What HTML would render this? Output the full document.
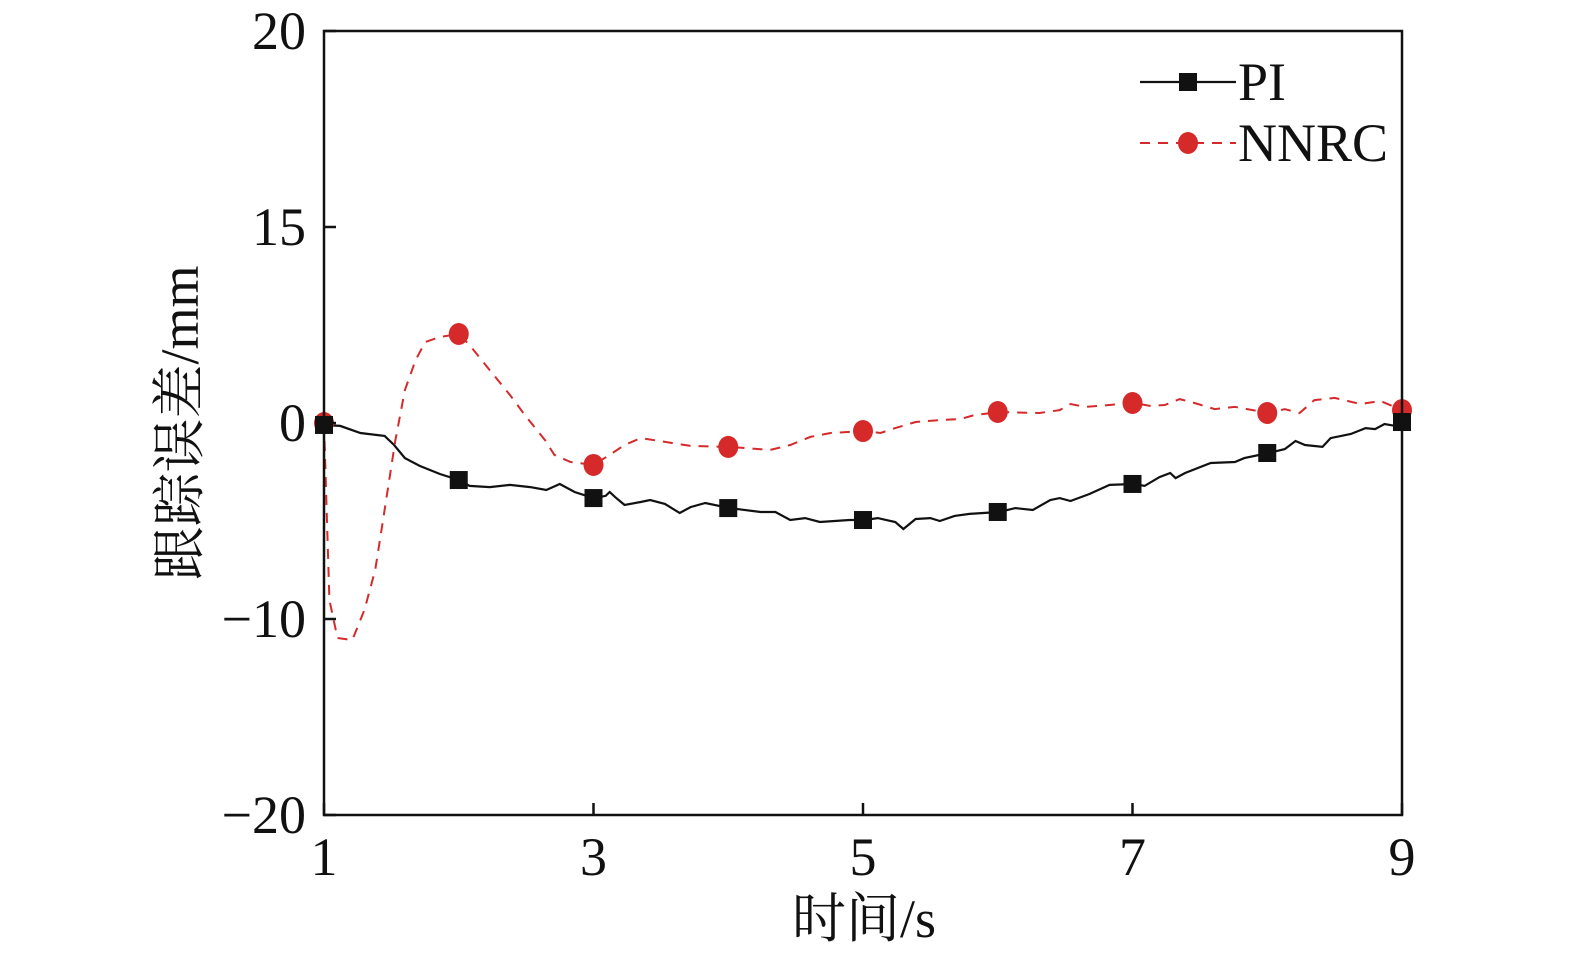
<!DOCTYPE html>
<html><head><meta charset="utf-8"><style>
html,body{margin:0;padding:0;background:#fff;}
svg text{font-family:"Liberation Serif","Noto Serif CJK SC",serif;fill:#111;}
</style></head><body>
<svg id="chart" width="1575" height="958" viewBox="0 0 1575 958" xmlns="http://www.w3.org/2000/svg">
<g id="plot"></g>
</svg>
<script>
const xTicks=[1,3,5,7,9];
const yTicks=[-20,-10,0,10,20];
const yTickLabels=["−20","−10","0","15","20"];
const piT=[1.00,1.12,1.27,1.45,1.52,1.60,1.71,1.86,2.00,2.08,2.23,2.38,2.53,2.65,2.75,2.86,3.00,3.09,3.12,3.16,3.23,3.35,3.42,3.53,3.64,3.72,3.83,4.01,4.24,4.35,4.46,4.57,4.68,4.90,5.01,5.11,5.24,5.30,5.39,5.50,5.57,5.68,5.79,6.01,6.13,6.26,6.39,6.46,6.54,6.68,6.83,7.01,7.09,7.20,7.28,7.32,7.39,7.58,7.76,7.83,8.01,8.13,8.21,8.28,8.41,8.47,8.62,8.73,8.80,8.87,8.95,9.00];
const piV=[-0.10,-0.15,-0.51,-0.66,-1.12,-1.79,-2.19,-2.60,-2.91,-3.21,-3.27,-3.16,-3.27,-3.42,-3.11,-3.52,-3.83,-3.72,-3.52,-3.78,-4.18,-4.03,-3.93,-4.13,-4.59,-4.29,-4.08,-4.34,-4.54,-4.54,-4.95,-4.85,-5.05,-4.95,-4.95,-4.85,-5.05,-5.41,-4.90,-4.85,-5.00,-4.74,-4.64,-4.54,-4.34,-4.44,-3.93,-3.83,-3.98,-3.62,-3.16,-3.11,-3.21,-2.76,-2.55,-2.81,-2.55,-2.04,-1.99,-1.79,-1.53,-1.33,-0.92,-1.12,-1.22,-0.77,-0.56,-0.26,-0.31,-0.05,-0.15,0.05];
const nnT=[1.00,1.04,1.10,1.21,1.30,1.38,1.45,1.53,1.60,1.68,1.75,1.86,2.00,2.08,2.23,2.38,2.49,2.64,2.71,2.83,3.00,3.12,3.23,3.35,3.49,3.72,4.01,4.31,4.46,4.61,4.76,5.01,5.13,5.24,5.39,5.57,5.72,5.83,6.01,6.31,6.46,6.54,6.65,6.83,7.01,7.13,7.24,7.35,7.46,7.61,7.76,8.01,8.13,8.24,8.35,8.50,8.69,8.84,9.00];
const nnV=[0,-9.03,-10.97,-11.07,-9.54,-7.50,-4.44,-0.87,1.68,3.21,4.13,4.39,4.54,3.98,2.70,1.43,0.41,-0.87,-1.63,-1.99,-2.14,-1.63,-1.12,-0.77,-0.92,-1.17,-1.22,-1.38,-1.12,-0.71,-0.51,-0.41,-0.51,-0.26,0.05,0.15,0.20,0.41,0.56,0.51,0.66,0.97,0.82,0.92,1.02,0.87,0.92,1.22,1.02,0.71,0.82,0.51,0.71,0.51,1.17,1.28,0.97,1.12,0.66];
const markT=[1,2,3,4,5,6,7,8,9];
const piMark=[-0.10,-2.91,-3.83,-4.34,-4.95,-4.54,-3.11,-1.53,0.05];
const nnMark=[0,4.54,-2.14,-1.22,-0.41,0.56,1.02,0.51,0.66];

const X0=324,X1=1402,Y0=815,Y1=31;
const sx=t=>X0+(t-1)/8*(X1-X0);
const sy=v=>Y0-(v+20)/40*(Y0-Y1);
const NS="http://www.w3.org/2000/svg";
const g=document.getElementById('plot');
function mk(tag,attrs,parent){const e=document.createElementNS(NS,tag);for(const k in attrs)e.setAttribute(k,attrs[k]);(parent||g).appendChild(e);return e;}

let d=piT.map((t,i)=>(i?'L':'M')+sx(t).toFixed(1)+','+sy(piV[i]).toFixed(1)).join('');
const lp=mk('path',{d:d,fill:'none',stroke:'#111','stroke-width':2.2});


d=nnT.map((t,i)=>(i?'L':'M')+sx(t).toFixed(1)+','+sy(nnV[i]).toFixed(1)).join('');
const ln=mk('path',{d:d,fill:'none',stroke:'#d62a2a','stroke-width':2,'stroke-dasharray':'10,8'});



markT.forEach((t,i)=>{
  const c=mk('ellipse',{cx:sx(t),cy:sy(nnMark[i]),rx:10,ry:11,fill:'#d62a2a'});
  
  
  const r=mk('rect',{x:sx(t)-9,y:sy(piMark[i])-9,width:18,height:18,fill:'#111'});
  
  
});

const fr=mk('rect',{x:X0,y:Y1,width:X1-X0,height:Y0-Y1,fill:'none',stroke:'#111','stroke-width':2.5});



xTicks.forEach(t=>{
  const l=mk('line',{x1:sx(t),x2:sx(t),y1:Y0,y2:Y0-12,stroke:'#111','stroke-width':2.5});
  
  
  const tx=mk('text',{x:sx(t),y:875,'text-anchor':'middle','font-size':54});
  tx.textContent=t;
  
  
});
yTicks.forEach((v,i)=>{
  const l=mk('line',{x1:X0,x2:X0+12,y1:sy(v),y2:sy(v),stroke:'#111','stroke-width':2.5});
  
  
  const tx=mk('text',{x:306,y:sy(v)+18,'text-anchor':'end','font-size':54});
  tx.textContent=yTickLabels[i];
  
  
});

const xt=mk('text',{x:864,y:937,'text-anchor':'middle','font-size':54});
xt.textContent='时间/s';


const yt=mk('text',{x:0,y:0,'text-anchor':'middle','font-size':54,transform:'translate(198,423) rotate(-90)'});
yt.textContent='跟踪误差/mm';



const lg=mk('g',{});


mk('line',{x1:1140,x2:1236,y1:82,y2:82,stroke:'#111','stroke-width':2.2},lg);
mk('rect',{x:1179,y:73,width:18,height:18,fill:'#111'},lg);
const t1=mk('text',{x:1238,y:100,'font-size':54},lg);
t1.textContent='PI';


mk('line',{x1:1140,x2:1236,y1:143,y2:143,stroke:'#d62a2a','stroke-width':2,'stroke-dasharray':'10,8'},lg);
mk('ellipse',{cx:1188,cy:143,rx:10,ry:11,fill:'#d62a2a'},lg);
const t2=mk('text',{x:1238,y:161,'font-size':54},lg);
t2.textContent='NNRC';


</script>
</body></html>
